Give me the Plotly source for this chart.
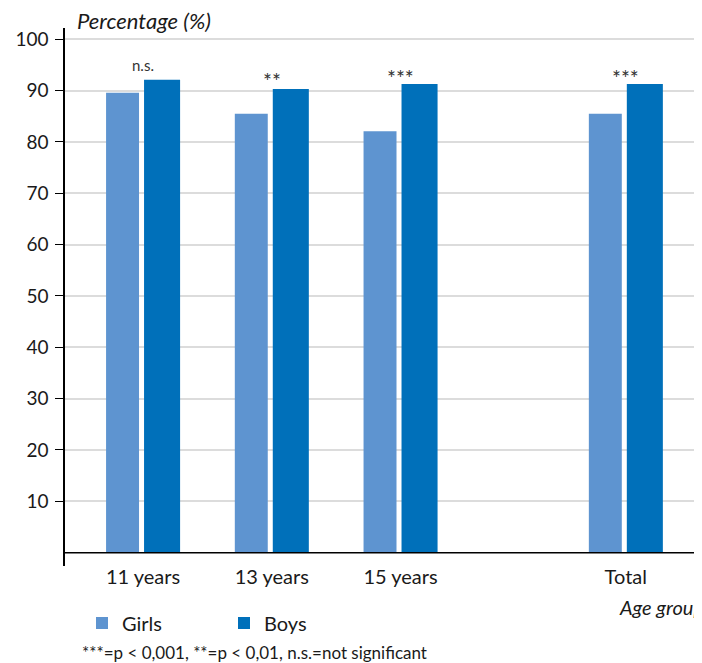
import plotly.graph_objects as go

# ---- data ----
categories = ["11 years", "13 years", "15 years", "Total"]
girls = [89.6, 85.5, 82.1, 85.5]
boys = [92.1, 90.3, 91.3, 91.3]
significance = ["n.s.", "**", "***", "***"]
y_ticks = [10, 20, 30, 40, 50, 60, 70, 80, 90, 100]

# ---- layout helpers (group slots along the x axis; Total set apart) ----
slots = [0, 1, 2, 3.75]
sig_y = [94.9, 92.0, 92.5, 92.5]
sig_size = [15, 21, 21, 21]

FONT = "Lato"
GIRLS_C = "rgb(94,148,208)"
BOYS_C = "rgb(0,112,186)"
TXT = "#1a1a1a"

# the page body adds an 8px margin; the figure is sized so it fits the window
W, H = 694, 655
L, T, B = 57, 20, 97
PW = W - L

fig = go.Figure()
fig.add_trace(go.Bar(
    x=slots, y=girls, name="Girls", marker_color=GIRLS_C,
    offset=-0.287, width=0.256, marker_line_width=0,
))
fig.add_trace(go.Bar(
    x=slots, y=boys, name="Boys", marker_color=BOYS_C,
    offset=0.008, width=0.280, marker_line_width=0,
))

for xs, s, yv, fs in zip(slots, significance, sig_y, sig_size):
    fig.add_annotation(x=xs, y=yv, text=s, showarrow=False,
                       xref="x", yref="y", yanchor="middle",
                       font=dict(family=FONT, size=fs, color="#333333"))

# x axis baseline
fig.add_shape(type="line", xref="paper", yref="y", x0=0, x1=1, y0=0, y1=0,
              line=dict(color="black", width=1.5), layer="above")

fig.add_annotation(xref="paper", yref="paper", x=(67 - L) / PW, y=1,
                   yshift=8, xanchor="left", yanchor="middle",
                   text="<i>Percentage (%)</i>", showarrow=False,
                   font=dict(family=FONT, size=22, color=TXT))
fig.add_annotation(xref="paper", yref="paper", x=(609 - L) / PW, y=0,
                   yshift=-41, xanchor="left", yanchor="middle",
                   text="<i>Age group</i>", showarrow=False,
                   font=dict(family=FONT, size=20, color=TXT))
fig.add_annotation(xref="paper", yref="paper", x=(72 - L) / PW, y=0,
                   yshift=-86, xanchor="left", yanchor="middle",
                   text="***=p < 0,001, **=p < 0,01, n.s.=not significant",
                   showarrow=False,
                   font=dict(family=FONT, size=17, color=TXT))

fig.update_layout(
    width=W, height=H,
    margin=dict(l=L, r=0, t=T, b=B, autoexpand=False),
    plot_bgcolor="white", paper_bgcolor="white",
    barmode="overlay",
    font=dict(family=FONT, size=18, color=TXT),
    showlegend=True,
    legend=dict(orientation="h", xref="container", yref="container",
                x=74 / W, xanchor="left",
                y=1 - 615 / H, yanchor="middle", entrywidth=97,
                font=dict(family=FONT, size=20, color=TXT),
                bgcolor="rgba(0,0,0,0)"),
    xaxis=dict(
        range=[-0.606, 4.342], tickmode="array", tickvals=slots,
        ticktext=categories, showline=False, showgrid=False, zeroline=False,
        ticks="", ticklabelstandoff=-3,
        tickfont=dict(family=FONT, size=20, color=TXT),
        automargin=False, fixedrange=True,
    ),
    yaxis=dict(
        range=[-2.6, 102.2], tickmode="array", tickvals=y_ticks,
        showline=True, linecolor="black", linewidth=1.5,
        ticks="outside", ticklen=8, tickcolor="black", tickwidth=1.2,
        ticklabelstandoff=3,
        showgrid=True, gridcolor="#dcdcdc", gridwidth=1.5, zeroline=False,
        tickfont=dict(family=FONT, size=19, color=TXT),
        automargin=False,
    ),
)

fig.write_html("out.html")
